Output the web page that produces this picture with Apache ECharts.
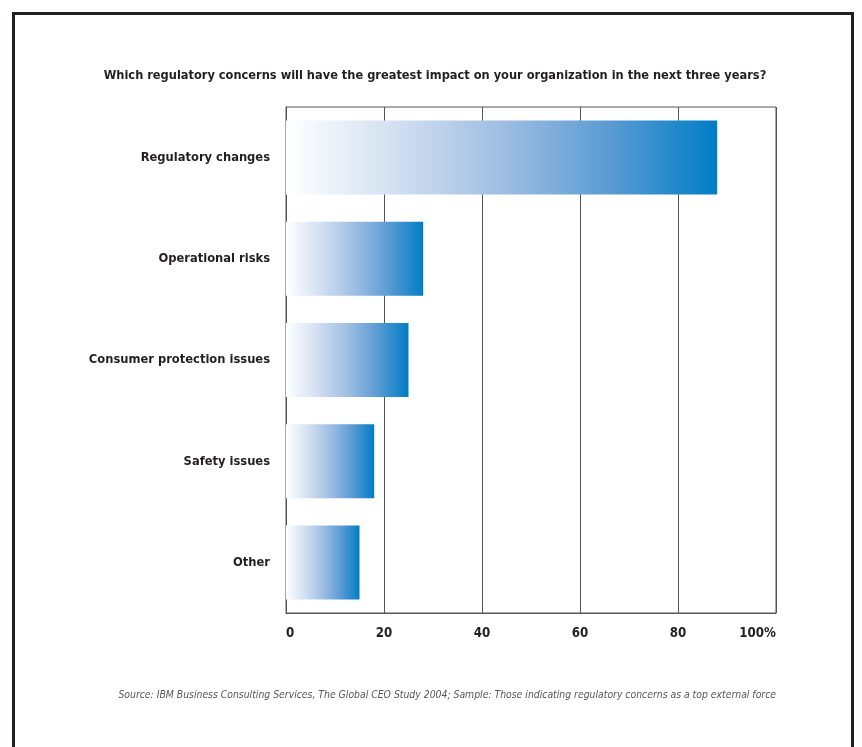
<!DOCTYPE html>
<html>
<head>
<meta charset="utf-8">
<script src="https://cdn.jsdelivr.net/npm/echarts@6/dist/echarts.min.js"></script>
<style>
html,body{margin:0;padding:0;background:#fff;}
#chart{width:862px;height:747px;}
</style>
</head>
<body>
<div id="chart"></div>
<script>
const categories = ["Regulatory changes", "Operational risks", "Consumer protection issues", "Safety issues", "Other"];
const values = [88, 28, 25, 18, 15];
const xTicks = [0, 20, 40, 60, 80, 100];
const titleText = "Which regulatory concerns will have the greatest impact on your organization in the next three years?";
const sourceText = "Source: IBM Business Consulting Services, The Global CEO Study 2004; Sample: Those indicating regulatory concerns as a top external force";

const FONT = '"Liberation Sans Narrow", "DejaVu Sans Condensed", "Liberation Sans", sans-serif';

const chart = echarts.init(document.getElementById('chart'), null, {renderer: 'canvas'});
const barGradient = new echarts.graphic.LinearGradient(0, 0, 1, 0, [
  {offset: 0, color: '#ffffff'},
  {offset: 0.25, color: '#d3e0f1'},
  {offset: 0.5, color: '#9fbee3'},
  {offset: 0.75, color: '#5a9bd3'},
  {offset: 1, color: '#007dc5'}
]);

chart.setOption({
  animation: false,
  backgroundColor: '#ffffff',
  title: {
    text: titleText,
    left: 430, top: 64,
    textAlign: 'center',
    textStyle: {fontFamily: FONT, fontSize: 12.7, fontWeight: 'bold', color: '#231f20'}
  },
  graphic: [
    {type: 'rect', shape: {x: 13.5, y: 13.5, width: 839, height: 760}, style: {fill: 'none', stroke: '#231f20', lineWidth: 3}, silent: true},
    {type: 'text', right: 86, top: 690, style: {text: sourceText, font: 'italic 10.35px ' + FONT, fill: '#555555'}}
  ],
  grid: {left: 286, right: 86, top: 107, bottom: 134, show: true, borderColor: '#555555', borderWidth: 1, backgroundColor: 'transparent'},
  xAxis: {
    type: 'value', min: 0, max: 100, interval: 20,
    axisLine: {show: true, lineStyle: {color: '#555555', width: 1}},
    axisTick: {show: false},
    splitLine: {show: true, lineStyle: {color: '#555555', width: 1}},
    axisLabel: {
      margin: 14, color: '#231f20', fontFamily: FONT, fontSize: 13.2, fontWeight: 'bold',
      alignMinLabel: 'left', alignMaxLabel: 'right',
      formatter: v => (v === xTicks[xTicks.length - 1] ? v + '%' : String(v))
    }
  },
  yAxis: {
    type: 'category', data: categories, inverse: true,
    axisLine: {show: true, lineStyle: {color: '#555555', width: 1}},
    axisTick: {show: false},
    axisLabel: {margin: 16, color: '#231f20', fontFamily: FONT, fontSize: 12.8, fontWeight: 'bold'}
  },
  series: [{
    type: 'bar', data: values, barWidth: 74,
    itemStyle: {color: barGradient}
  }]
});
</script>
</body>
</html>
